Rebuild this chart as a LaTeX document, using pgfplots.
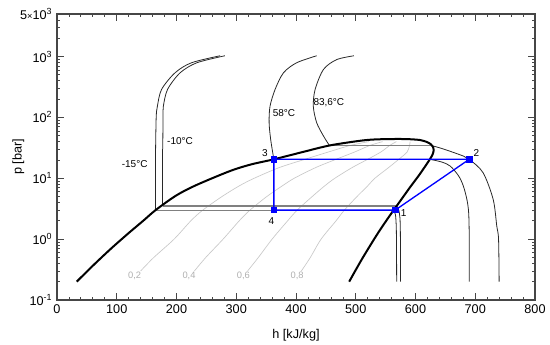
\documentclass[border=0pt]{standalone}
\usepackage{fontspec}
\setmainfont{Liberation Sans}
\usepackage{pgfplots}
\pgfplotsset{compat=1.18}
\definecolor{frame}{RGB}{70,70,70}
\definecolor{iso}{RGB}{40,40,40}
\definecolor{twoph}{RGB}{128,128,128}
\definecolor{qual}{RGB}{200,200,200}
\definecolor{qlab}{RGB}{175,175,175}
\begin{document}
\begin{tikzpicture}
\begin{axis}[
  scale only axis, width=358.5pt, height=214.5pt,
  xmin=0, xmax=800, ymode=log, ymin=0.1, ymax=5000,
  xtick={0,100,...,800}, minor x tick num=4,
  ytick={0.1,1,10,100,1000,5000},
  yticklabels={10\textsuperscript{-1},10\textsuperscript{0},10\textsuperscript{1},10\textsuperscript{2},10\textsuperscript{3},5{\scriptsize ×}10\textsuperscript{3}},
  minor ytick={0.2,0.3,0.4,0.5,0.6,0.7,0.8,0.9,2,3,4,5,6,7,8,9,20,30,40,50,60,70,80,90,200,300,400,500,600,700,800,900,2000,3000,4000},
  tick align=inside,
  major tick length=5pt, minor tick length=2.5pt,
  axis line style={frame, line width=0.9pt},
  every tick/.style={frame, line width=0.6pt},
  xlabel={h [kJ/kg]}, ylabel={p [bar]},
  xlabel style={yshift=-5pt},
  ylabel style={yshift=-10pt},
  label style={font=\fontsize{9.5}{11}\selectfont},
  tick label style={font=\fontsize{9.5}{11}\selectfont},
  /pgf/number format/assume math mode=true,
  /pgf/number format/1000 sep={},
  clip=false,
]
\coordinate (SW) at (rel axis cs:0,0);
\coordinate (NE) at (rel axis cs:1,1);
% quality lines
\addplot[qual, line width=0.5pt, smooth] coordinates {(140,0.3)(162,0.5)(196,1)(224,2)(244,3)(276,5)(305,7.5)(330,10)(372,15)(415,20.5)(454,27)(491,34.7)(522,40)};
\addplot[qual, line width=0.5pt, smooth] coordinates {(230,0.3)(249,0.5)(278,1)(305,2)(323,3)(351,5)(377,7.5)(397,10)(433,15)(467,20.5)(498,27)(524,34.7)(545,40)};
\addplot[qual, line width=0.5pt, smooth] coordinates {(319,0.3)(337,0.5)(360,1)(386,2)(402,3)(427,5)(448,7.5)(465,10)(494,15)(520,20.5)(542,27)(557,34.7)(568,40)};
\addplot[qual, line width=0.5pt, smooth] coordinates {(409,0.3)(424,0.5)(442,1)(467,2)(481,3)(502,5)(520,7.5)(532,10)(555,15)(572,20.5)(586,27)(590,34.7)(591,40)};
\node[qlab, font=\fontsize{7}{8}\selectfont] at (axis cs:130,0.25) {0,2};
\node[qlab, font=\fontsize{7}{8}\selectfont] at (axis cs:221,0.25) {0,4};
\node[qlab, font=\fontsize{7}{8}\selectfont] at (axis cs:312,0.25) {0,6};
\node[qlab, font=\fontsize{7}{8}\selectfont] at (axis cs:402,0.25) {0,8};
% two-phase isotherm segments
\addplot[twoph, line width=0.9pt] coordinates {(165,3.0)(563.5,3.0)};
\addplot[twoph, line width=0.9pt] coordinates {(177,3.5)(568.4,3.5)};
\addplot[twoph, line width=0.9pt] coordinates {(363,20.5)(624,20.5)};
\addplot[twoph, line width=0.9pt] coordinates {(456,34.5)(627,34.5)};
% isotherms: liquid / supercritical part
\addplot[iso, line width=0.6pt] coordinates {(165,3.0)(165,30)};
\addplot[iso, line width=0.6pt, smooth] coordinates {(165,30)(166,100)(168,152)(175,288)(197.5,540)(225,790)(273,1030)};
\addplot[iso, line width=0.6pt] coordinates {(177,3.5)(177,30)};
\addplot[iso, line width=0.6pt, smooth] coordinates {(177,30)(177.5,100)(178,152)(185,288)(206,540)(234,790)(281,1030)};
\addplot[iso, line width=0.6pt, smooth] coordinates {(363,20.5)(362,23.2)(357.6,43.6)(355,82)(356.5,152)(365,288)(379,540)(401,790)(434.6,1030)};
\addplot[iso, line width=0.6pt, smooth] coordinates {(456,34.5)(446,49.5)(434.6,82)(429,152)(432,288)(446,614)(468,890)(497,1030)};
% isotherms: vapour part
\addplot[iso, line width=0.6pt, smooth] coordinates {(563.5,3.0)(566.5,2.5)(567.8,1.6)(568.2,0.8)(568.5,0.2)};
\addplot[iso, line width=0.6pt, smooth] coordinates {(568.4,3.5)(572,3.0)(574,2.2)(574.7,1.2)(575,0.2)};
\addplot[iso, line width=0.6pt, smooth] coordinates {(624,20.5)(644,18.5)(658,15.9)(672,11)(680,7.5)(686,4.5)(689,2.7)(690,1)(690,0.2)};
\addplot[iso, line width=0.6pt, smooth] coordinates {(627,34.5)(648,30)(680,23.2)(690,20.5)(713,12.4)(730,4.5)(736,1.65)(739,1.0)(740,0.2)};
% saturation dome
\addplot[black, line width=1.5pt, smooth] coordinates {(33,0.2)(60,0.366)(90,0.693)(120,1.26)(145,2.03)(165,3.0)(200,5.25)(234,7.8)(290,13.2)(325,16.9)(363,20.5)(410,26.8)(457,34.7)(513,42)(545,43.9)(575,44.2)(591,43.8)(607.5,42.5)(619,39.5)(626,36)(629.5,32.5)(630.5,29)(628.5,24.5)(624,20.5)(607.5,11.8)(591,7.15)(575,4.31)(555,2.285)(535,1.164)(510,0.463)(489,0.2)};
% cycle
\addplot[blue, line width=1pt, mark=square*, mark size=2pt, mark options={solid}] coordinates {(566,3.0)(690,20.5)(363,20.5)(363,3.0)(566,3.0)};
% labels
\node[font=\fontsize{7.5}{9}\selectfont] at (axis cs:348,26.4) {3};
\node[font=\fontsize{7.5}{9}\selectfont] at (axis cs:702,25.7) {2};
\node[font=\fontsize{7.5}{9}\selectfont] at (axis cs:580,2.67) {1};
\node[font=\fontsize{7.5}{9}\selectfont] at (axis cs:359,2.0) {4};
\node[font=\fontsize{7.5}{9}\selectfont] at (axis cs:130,17) {-15°C};
\node[font=\fontsize{7.5}{9}\selectfont] at (axis cs:206,41) {-10°C};
\node[font=\fontsize{7.5}{9}\selectfont] at (axis cs:380,116) {58°C};
\node[font=\fontsize{7.5}{9}\selectfont] at (axis cs:455,174) {83,6°C};
\end{axis}
\pgfresetboundingbox
\path[use as bounding box] ([shift={(-42.75pt,-33pt)}]SW) rectangle ([shift={(11.25pt,10.5pt)}]NE);
\end{tikzpicture}
\end{document}
